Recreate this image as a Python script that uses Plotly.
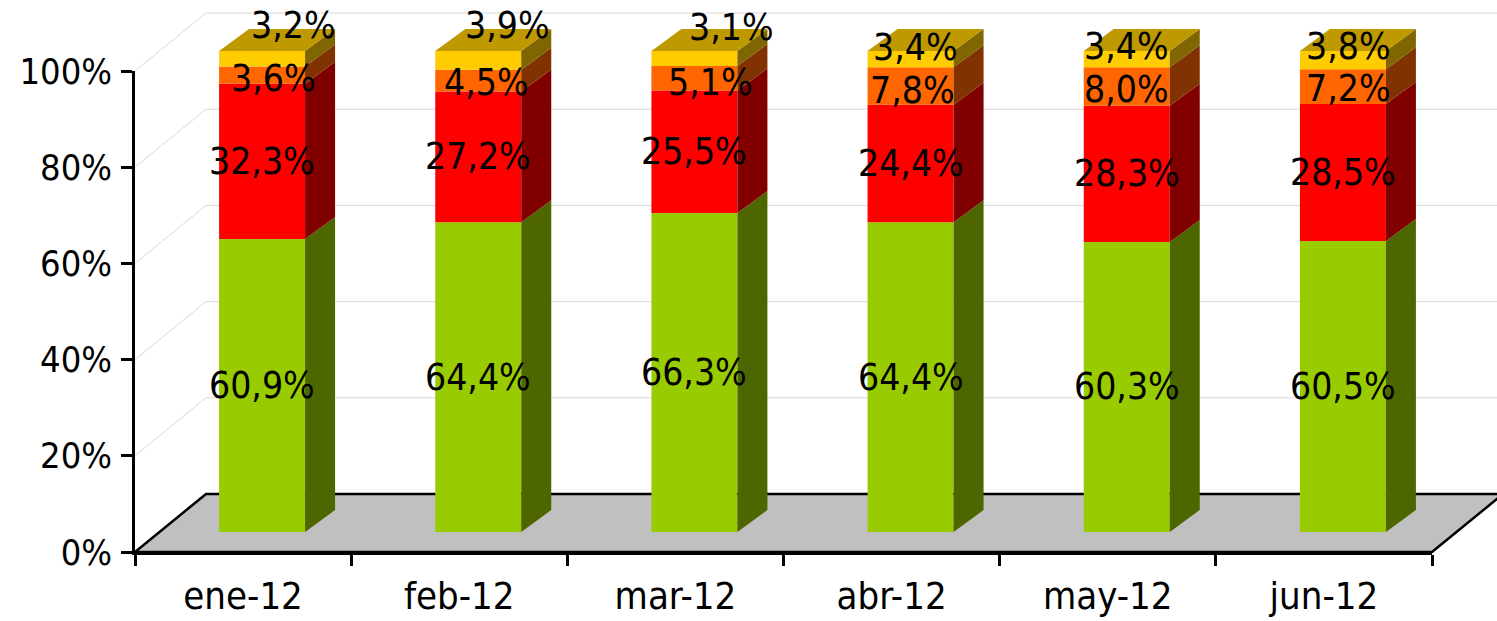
import plotly.graph_objects as go

# ---------------- data ----------------
categories = ["ene-12", "feb-12", "mar-12", "abr-12", "may-12", "jun-12"]
serie_verde = [60.9, 64.4, 66.3, 64.4, 60.3, 60.5]
serie_roja = [32.3, 27.2, 25.5, 24.4, 28.3, 28.5]
serie_naranja = [3.6, 4.5, 5.1, 7.8, 8.0, 7.2]
serie_amarilla = [3.2, 3.9, 3.1, 3.4, 3.4, 3.8]
y_tick_values = [0, 20, 40, 60, 80, 100]
y_tick_labels = ["0%", "20%", "40%", "60%", "80%", "100%"]

# ---------------- styles ----------------
series = [serie_verde, serie_roja, serie_naranja, serie_amarilla]
front_colors = ["#99CC00", "#FF0000", "#FF6600", "#FFCC00"]
side_colors = ["#4D6600", "#800000", "#803300", "#806600"]
top_color = "#BF9900"
# label pixel nudges (x, y-up) for orange and yellow series (as placed in the original)
label_shift = {
    2: [(11, -3), (8, -2), (16, -4), (2, -4), (0, -3), (6, -2)],
    3: [(31, 33), (29, 35), (37, 31), (5, 12), (0, 13), (6, 14)],
}
FONT = "DejaVu Sans Condensed, DejaVu Sans, sans-serif"

W, H = 1497, 621
PL, PR, PT, PB = 135, 1432, 71, 552          # front plot box (px)
n = len(categories)
sx = (PR - PL) / n                           # px per category
sy = (PB - PT) / 100.0                       # px per percent


def ux(p):
    return p / sx


def uy(p):
    return p / sy


DX, DY = ux(71), uy(58)          # depth of the 3-D box
FX, FY = ux(19), uy(20)          # bar front face offset
BW = ux(86)                      # bar width
BDX, BDY = ux(30), uy(22)        # bar depth

x_lo, x_hi = -0.5 - ux(PL), -0.5 + ux(W - PL)
y_lo, y_hi = -uy(H - PB), uy(PB)

fig = go.Figure()
shapes = []

# back-wall gridlines
for v in y_tick_values[1:]:
    shapes.append(dict(
        type="path", xref="x", yref="y", layer="below",
        path=f"M{-0.5},{v} L{-0.5 + DX},{v + DY} L{x_hi + 1},{v + DY}",
        line=dict(color="#D9D9D9", width=1)))

# floor
shapes.append(dict(
    type="path", xref="x", yref="y", layer="below",
    path=(f"M{-0.5},0 L{n - 0.5},0 L{n - 0.5 + DX},{DY} "
          f"L{-0.5 + DX},{DY} Z"),
    fillcolor="#C0C0C0", line=dict(color="black", width=2.5)))

# bars (front faces) + side faces
xc = [i + FX for i in range(n)]
cum = [0.0] * n
bases = []
for s, vals in enumerate(series):
    base = [FY + c for c in cum]
    bases.append(base)
    fig.add_trace(go.Bar(x=xc, y=vals, base=base, width=BW,
                         marker=dict(color=front_colors[s], line=dict(width=0)),
                         hoverinfo="skip", xaxis="x", yaxis="y"))
    px_, py_ = [], []
    for i in range(n):
        xr = xc[i] + BW / 2
        y0 = base[i]
        y1 = base[i] + vals[i]
        px_ += [xr, xr + BDX, xr + BDX, xr, xr, None]
        py_ += [y0, y0 + BDY, y1 + BDY, y1, y0, None]
    fig.add_trace(go.Scatter(x=px_, y=py_, mode="lines", fill="toself",
                             fillcolor=side_colors[s], line=dict(width=0),
                             hoverinfo="skip", xaxis="x", yaxis="y"))
    cum = [c + v for c, v in zip(cum, vals)]

# top faces
tx, ty = [], []
for i in range(n):
    xl = xc[i] - BW / 2
    xr = xc[i] + BW / 2
    yt = FY + cum[i]
    tx += [xl, xr, xr + BDX, xl + BDX, xl, None]
    ty += [yt, yt, yt + BDY, yt + BDY, yt, None]
fig.add_trace(go.Scatter(x=tx, y=ty, mode="lines", fill="toself", fillcolor=top_color,
                         line=dict(width=0), hoverinfo="skip", xaxis="x", yaxis="y"))

# data labels
for s, vals in enumerate(series):
    for i in range(n):
        dx, dy = label_shift.get(s, [(0, 0)] * n)[i]
        fig.add_annotation(
            x=xc[i], y=bases[s][i] + vals[i] / 2, xref="x", yref="y",
            text=f"{vals[i]:.1f}".replace(".", ",") + "%", showarrow=False,
            xshift=dx, yshift=dy, font=dict(family=FONT, size=37, color="black"))

# front axes (dummy trace so the subplot exists)
fig.add_trace(go.Scatter(x=categories, y=[None] * n, mode="markers",
                         marker=dict(opacity=0), hoverinfo="skip",
                         xaxis="x2", yaxis="y2"))

fig.update_layout(
    width=W, height=H,
    margin=dict(l=0, r=0, t=0, b=0, pad=0, autoexpand=False),
    paper_bgcolor="white", plot_bgcolor="rgba(0,0,0,0)",
    showlegend=False, barmode="overlay", shapes=shapes,
    font=dict(family=FONT, color="black"),
    xaxis=dict(domain=[0, 1], range=[x_lo, x_hi], visible=False, fixedrange=True, anchor="y"),
    yaxis=dict(domain=[0, 1], range=[y_lo, y_hi], visible=False, fixedrange=True, anchor="x"),
    xaxis2=dict(domain=[PL / W, PR / W], anchor="y2", type="category",
                categoryorder="array", categoryarray=categories, range=[-0.5, n - 0.5],
                showline=True, linecolor="black", linewidth=2.5,
                ticks="outside", ticklen=11, tickwidth=2.5, tickcolor="black",
                tickson="boundaries", showgrid=False, zeroline=False, automargin=False,
                ticklabelstandoff=9,
                tickfont=dict(family=FONT, size=38, color="black"), fixedrange=True),
    yaxis2=dict(domain=[(H - PB) / H, (H - PT) / H], anchor="x2", range=[0, 100],
                showline=True, linecolor="black", linewidth=2.5,
                ticks="outside", ticklen=11, tickwidth=2.5, tickcolor="black",
                tickmode="array", tickvals=y_tick_values, ticktext=y_tick_labels,
                showgrid=False, zeroline=False, automargin=False, ticklabelstandoff=2,
                tickfont=dict(family=FONT, size=36, color="black"), fixedrange=True),
)

fig.write_html("out.html", config={"displayModeBar": False},
               post_script="document.body.style.margin='0px';")
